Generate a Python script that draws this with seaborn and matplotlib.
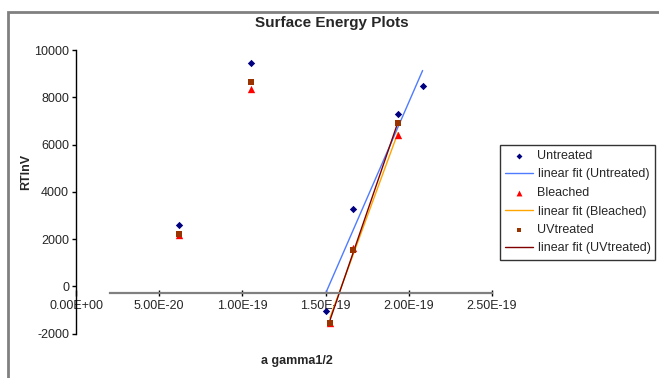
import numpy as np
import pandas as pd
import seaborn as sns
import matplotlib.pyplot as plt
from matplotlib.patches import Rectangle
from matplotlib.ticker import FuncFormatter, MultipleLocator

# data
untreated_x = [6.19e-20, 1.05e-19, 1.505e-19, 1.663e-19, 1.935e-19, 2.083e-19]
untreated_y = [2590, 9460, -1030, 3270, 7290, 8480]
bleached_x = [6.19e-20, 1.05e-19, 1.526e-19, 1.663e-19, 1.935e-19]
bleached_y = [2180, 8350, -1550, 1620, 6400]
uv_x = [6.19e-20, 1.05e-19, 1.526e-19, 1.663e-19, 1.935e-19]
uv_y = [2230, 8660, -1550, 1540, 6900]
fit_from = 1.4e-19  # trendlines only use the steep part

series = [
    ('Untreated', untreated_x, untreated_y, 'D', 14, '#000080', '#4F7BFF'),
    ('Bleached', bleached_x, bleached_y, '^', 28, '#FF0000', '#FFA500'),
    ('UVtreated', uv_x, uv_y, 's', 18, '#993300', '#800000'),
]

sns.set_theme(style='white')
plt.rcParams['font.family'] = ['Liberation Sans', 'DejaVu Sans']

fig = plt.figure(figsize=(6.59, 3.78), dpi=100)
ax = fig.add_axes([76/659, 1-333.6/378, 416/659, 283.4/378])

for name, xs, ys, mk, sz, col, fitcol in series:
    df = pd.DataFrame({'x': xs, 'y': ys})
    sns.scatterplot(data=df, x='x', y='y', marker=mk, s=sz, color=col,
                    edgecolor=col, linewidth=0, ax=ax, label=name, zorder=3)
    sub = df[df['x'] > fit_from]
    k, b = np.polyfit(sub['x'], sub['y'], 1)
    xx = np.array([sub['x'].min(), sub['x'].max()])
    fit = pd.DataFrame({'x': xx, 'y': k*xx + b})
    sns.lineplot(data=fit, x='x', y='y', color=fitcol, linewidth=1,
                 ax=ax, label=f'linear fit ({name})', zorder=2)

ax.set_xlim(0, 2.5e-19)
ax.set_ylim(-2000, 10000)
ax.xaxis.set_major_locator(MultipleLocator(5e-20))
ax.yaxis.set_major_locator(MultipleLocator(2000))
ax.xaxis.set_major_formatter(FuncFormatter(lambda v, p: f'{v:.2E}'))
ax.yaxis.set_major_formatter(FuncFormatter(lambda v, p: f'{v:.0f}'))

for s in ['top', 'right']:
    ax.spines[s].set_visible(False)
ax.spines['left'].set_color('black')
ax.spines['left'].set_linewidth(1)
ax.spines['bottom'].set_position(('data', -300))
ax.spines['bottom'].set_color('#808080')
ax.spines['bottom'].set_linewidth(1.6)
ax.spines['bottom'].set_bounds(2.05e-20, 2.5e-19)

ax.tick_params(axis='y', direction='out', length=3, width=1, color='black',
               labelsize=9, pad=2, left=True)
ax.tick_params(axis='x', direction='inout', length=4, width=1, color='black',
               labelsize=9, pad=3, bottom=True)

ax.set_xlabel('a gamma1/2', fontsize=9, fontweight='bold')
ax.set_ylabel('RTlnV', fontsize=9, fontweight='bold')
ax.xaxis.set_label_coords(0.532, -0.074)
ax.yaxis.set_label_coords(-0.106, 0.57)

fig.text(332/659, 1-23/378, 'Surface Energy Plots', fontsize=11,
         fontweight='bold', ha='center', va='center')

leg = ax.legend(loc='upper left', bbox_to_anchor=(500/659, 1-145/378),
                bbox_transform=fig.transFigure, fontsize=9, frameon=True,
                fancybox=False, shadow=False, handlelength=2.2,
                labelspacing=0.52, borderpad=0.4, handletextpad=0.4,
                borderaxespad=0, markerscale=0.8)
leg.get_frame().set_edgecolor('black')
leg.get_frame().set_linewidth(1)
leg.get_frame().set_facecolor('white')

# outer chart border
fig.patches.append(Rectangle((8/659, -0.1), 1.1, 1 - 12/378 + 0.1,
                             transform=fig.transFigure, fill=False,
                             edgecolor='#808080', linewidth=2))

fig.savefig('out.png', dpi=100)
